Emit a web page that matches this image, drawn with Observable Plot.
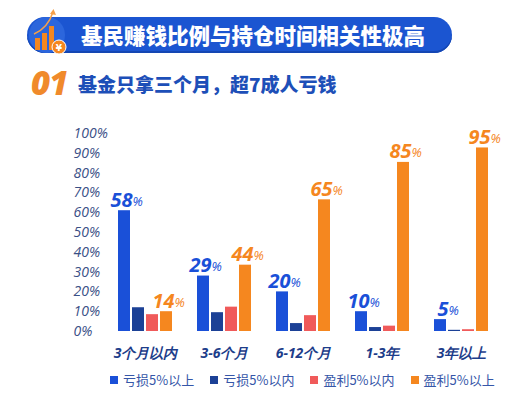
<!DOCTYPE html>
<html>
<head>
<meta charset="utf-8">
<script src="https://cdn.jsdelivr.net/npm/d3@7"></script>
<script src="https://cdn.jsdelivr.net/npm/@observablehq/plot@0.6"></script>
<style>
  html, body { margin: 0; padding: 0; background: #fff; }
  body { width: 522px; height: 406px; position: relative; overflow: hidden; font-family: "Noto Sans CJK SC", "Noto Sans", sans-serif; }
  #banner { position: absolute; left: 27px; top: 17px; width: 425px; height: 36px; border-radius: 18px; background: #1b55d1; box-shadow: inset 0 -2px 0 #1446b3; }
  #title { position: absolute; left: 81px; top: 17px; height: 36px; line-height: 36px; color: #fff; font-size: 21.5px; font-weight: 900; white-space: nowrap; }
  #icon { position: absolute; left: 26px; top: 6px; }
  #num { position: absolute; left: 31px; top: 63px; font-family: "Open Sans", "Noto Sans", sans-serif; font-size: 33px; font-weight: 800; font-style: italic; color: #f08a2b; line-height: 40px; letter-spacing: -1px; }
  #sub { position: absolute; left: 78px; top: 71px; font-size: 19px; font-weight: 900; color: #1d4fb8; line-height: 26px; white-space: nowrap; }
  #chart { position: absolute; left: 0; top: 110px; }
  #legend { position: absolute; left: 110px; top: 371px; display: flex; gap: 16px; font-size: 13px; color: #3556a8; line-height: 18px; white-space: nowrap; }
  #legend .item { display: flex; align-items: center; gap: 5px; }
  #legend .sw { width: 8px; height: 8px; display: inline-block; }
</style>
</head>
<body>
<div id="banner"></div>
<svg id="icon" width="50" height="50" viewBox="0 0 50 50">
  <circle cx="21" cy="29" r="18" fill="#2c66dc"/>
  <rect x="9" y="32" width="5" height="12" fill="#f5871f"/>
  <rect x="16" y="27" width="5" height="17" fill="#f5871f"/>
  <rect x="23" y="20" width="5" height="24" fill="#f5871f"/>
  <path d="M8 28 Q22 22 27 6" stroke="#f5a04a" stroke-width="1.5" fill="none"/>
  <path d="M24 8 L27.5 3 L30 9 Z" fill="#f5a04a"/>
  <circle cx="33" cy="41" r="7" fill="#f5871f" stroke="#fff" stroke-width="1"/>
  <text x="33" y="44.5" font-size="9" font-weight="bold" fill="#fff" text-anchor="middle" font-family="DejaVu Sans">¥</text>
</svg>
<div id="title">基民赚钱比例与持仓时间相关性极高</div>
<div id="num">01</div>
<div id="sub">基金只拿三个月，超7成人亏钱</div>
<div id="chart"></div>
<div id="legend"></div>
<script>
// ---- data ----
const groups = ["3个月以内", "3-6个月", "6-12个月", "1-3年", "3年以上"];
const series = ["亏损5%以上", "亏损5%以内", "盈利5%以内", "盈利5%以上"];
const colors = ["#1a50d8", "#1c4196", "#f05a5a", "#f5871f"];
// bar heights as drawn (percent)
const loss5Plus = [61, 28, 20, 10, 6];
const loss5In = [12, 9.5, 4, 2, 0.6];
const gain5In = [8.5, 12.3, 8, 2.7, 0.9];
const gain5Plus = [10, 33.5, 66.5, 85.4, 92.7];
// printed labels
const lossLabels = ["58", "29", "20", "10", "5"];
const gainLabels = ["14", "44", "65", "85", "95"];
const yTicks = [0, 10, 20, 30, 40, 50, 60, 70, 80, 90, 100];

const seriesValues = [loss5Plus, loss5In, gain5In, gain5Plus];
const rows = [];
groups.forEach((g, i) => series.forEach((s, j) => rows.push({group: g, series: s, value: seriesValues[j][i]})));
const labels = [];
groups.forEach((g, i) => {
  labels.push({group: g, series: series[0], value: loss5Plus[i], text: lossLabels[i], color: colors[0]});
  labels.push({group: g, series: series[3], value: gain5Plus[i], text: gainLabels[i], color: colors[3]});
});

const font = "'Open Sans', 'Noto Sans', sans-serif";
const chart = Plot.plot({
  width: 522,
  height: 258,
  marginLeft: 114,
  marginRight: 29,
  marginTop: 23,
  marginBottom: 37,
  style: {fontFamily: font, background: "transparent", overflow: "visible"},
  fx: {domain: groups, paddingInner: 0.26, paddingOuter: 0, label: null},
  x: {domain: series, paddingInner: 0.13, paddingOuter: 0, axis: null},
  y: {domain: [0, 100], axis: null},
  color: {domain: series, range: colors},
  marks: [
    Plot.axisY({ticks: yTicks, tickSize: 0, tickPadding: 0, textAnchor: "start", dx: -43,
      tickFormat: d => d + "%", fontSize: 14, fontStyle: "italic", fill: "#3a4f86", label: null}),
    Plot.axisFx({anchor: "bottom", tickSize: 0, tickPadding: 17, fontSize: 14, fontWeight: "bold",
      fontStyle: "italic", fill: "#1d3d8a", label: null}),
    Plot.barY(rows, {fx: "group", x: "series", y: "value", fill: "series"}),
    Plot.text(labels, {fx: "group", x: "series", y: "value", text: "text", fill: "color",
      textAnchor: "end", lineAnchor: "bottom", dx: 8, dy: -4, fontSize: 20, fontWeight: "bold", fontStyle: "italic"}),
    Plot.text(labels, {fx: "group", x: "series", y: "value", text: () => "%", fill: "color",
      textAnchor: "start", lineAnchor: "bottom", dx: 8, dy: -5, fontSize: 13, fontStyle: "italic"})
  ]
});
document.getElementById("chart").appendChild(chart);

const legend = document.getElementById("legend");
series.forEach((s, i) => {
  const item = document.createElement("div");
  item.className = "item";
  item.innerHTML = `<span class="sw" style="background:${colors[i]}"></span><span>${s}</span>`;
  legend.appendChild(item);
});
</script>
</body>
</html>
